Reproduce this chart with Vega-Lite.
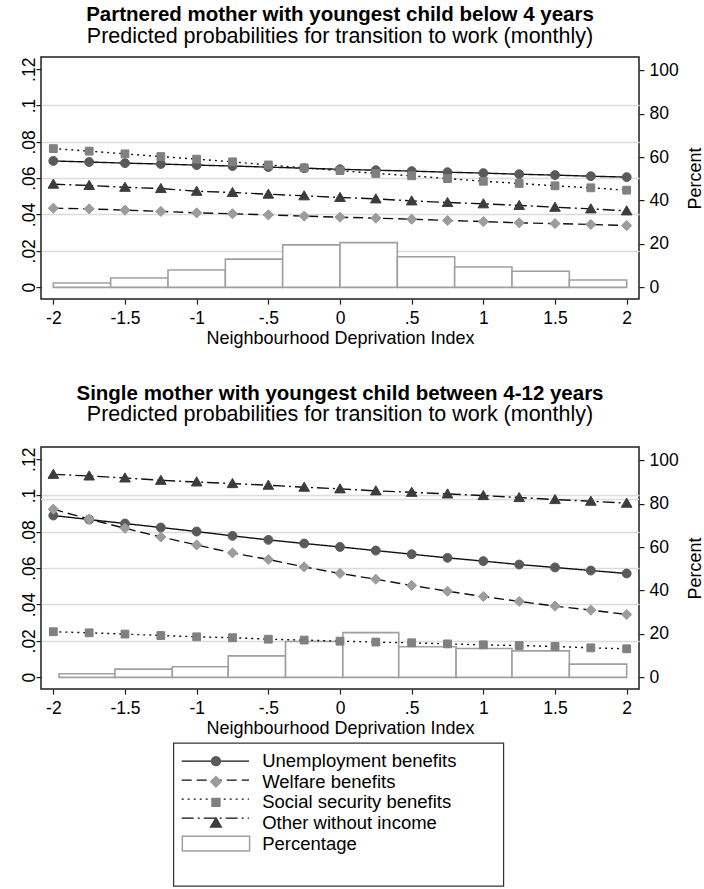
{
  "$schema": "https://vega.github.io/schema/vega-lite/v6.json",
  "padding": {"left": 19, "top": 4.1, "right": 0, "bottom": 0},
  "autosize": {"type": "pad"},
  "background": "white",
  "config": {
    "font": "Liberation Sans",
    "view": {"stroke": "#1e1e1e", "strokeWidth": 1.5},
    "axis": {"labelFont": "Liberation Sans", "titleFont": "Liberation Sans", "labelColor": "#000", "titleColor": "#000", "tickColor": "#1e1e1e", "tickWidth": 1.2, "domain": false, "labelFontSize": 17.5, "titleFontSize": 18, "titleFontWeight": "normal", "labelOverlap": false, "labelFlush": false, "labelBound": false},
    "legend": {"labelFont": "Liberation Sans", "labelFontSize": 18.5, "labelColor": "#000", "labelLimit": 500, "strokeWidth": 1.2},
    "title": {"font": "Liberation Sans", "color": "#000", "subtitleColor": "#000", "subtitleFont": "Liberation Sans"}
  },
  "datasets": {
    "hist_top": [
      {"bin_start": -2, "bin_end": -1.6, "percent": 2.0},
      {"bin_start": -1.6, "bin_end": -1.2, "percent": 4.3},
      {"bin_start": -1.2, "bin_end": -0.8, "percent": 8.0},
      {"bin_start": -0.8, "bin_end": -0.4, "percent": 13.0},
      {"bin_start": -0.4, "bin_end": 0, "percent": 19.6},
      {"bin_start": 0, "bin_end": 0.4, "percent": 20.6},
      {"bin_start": 0.4, "bin_end": 0.8, "percent": 14.1},
      {"bin_start": 0.8, "bin_end": 1.2, "percent": 9.4},
      {"bin_start": 1.2, "bin_end": 1.6, "percent": 7.4},
      {"bin_start": 1.6, "bin_end": 2.0, "percent": 3.4}
    ],
    "hist_bottom": [
      {"bin_start": -1.96, "bin_end": -1.57, "percent": 1.7},
      {"bin_start": -1.57, "bin_end": -1.17, "percent": 3.8},
      {"bin_start": -1.17, "bin_end": -0.78, "percent": 4.9},
      {"bin_start": -0.78, "bin_end": -0.38, "percent": 9.9},
      {"bin_start": -0.38, "bin_end": 0.02, "percent": 16.5},
      {"bin_start": 0.02, "bin_end": 0.41, "percent": 20.6},
      {"bin_start": 0.41, "bin_end": 0.81, "percent": 14.1},
      {"bin_start": 0.81, "bin_end": 1.2, "percent": 13.3},
      {"bin_start": 1.2, "bin_end": 1.6, "percent": 12.2},
      {"bin_start": 1.6, "bin_end": 2.0, "percent": 6.1}
    ],
    "ref_bottom": [{"v": 0.0978}],
    "pred_top": [
      {"x": -2, "series": "Unemployment benefits", "p": 0.0695},
      {"x": -1.75, "series": "Unemployment benefits", "p": 0.0689},
      {"x": -1.5, "series": "Unemployment benefits", "p": 0.0683},
      {"x": -1.25, "series": "Unemployment benefits", "p": 0.0678},
      {"x": -1, "series": "Unemployment benefits", "p": 0.0672},
      {"x": -0.75, "series": "Unemployment benefits", "p": 0.0667},
      {"x": -0.5, "series": "Unemployment benefits", "p": 0.0661},
      {"x": -0.25, "series": "Unemployment benefits", "p": 0.0655},
      {"x": 0, "series": "Unemployment benefits", "p": 0.0649},
      {"x": 0.25, "series": "Unemployment benefits", "p": 0.0644},
      {"x": 0.5, "series": "Unemployment benefits", "p": 0.0639},
      {"x": 0.75, "series": "Unemployment benefits", "p": 0.0633},
      {"x": 1, "series": "Unemployment benefits", "p": 0.0628},
      {"x": 1.25, "series": "Unemployment benefits", "p": 0.0622},
      {"x": 1.5, "series": "Unemployment benefits", "p": 0.0617},
      {"x": 1.75, "series": "Unemployment benefits", "p": 0.0611},
      {"x": 2, "series": "Unemployment benefits", "p": 0.0606},
      {"x": -2, "series": "Welfare benefits", "p": 0.0435},
      {"x": -1.75, "series": "Welfare benefits", "p": 0.0431},
      {"x": -1.5, "series": "Welfare benefits", "p": 0.0424},
      {"x": -1.25, "series": "Welfare benefits", "p": 0.0417},
      {"x": -1, "series": "Welfare benefits", "p": 0.0409},
      {"x": -0.75, "series": "Welfare benefits", "p": 0.0404},
      {"x": -0.5, "series": "Welfare benefits", "p": 0.0398},
      {"x": -0.25, "series": "Welfare benefits", "p": 0.0391},
      {"x": 0, "series": "Welfare benefits", "p": 0.0385},
      {"x": 0.25, "series": "Welfare benefits", "p": 0.0380},
      {"x": 0.5, "series": "Welfare benefits", "p": 0.0374},
      {"x": 0.75, "series": "Welfare benefits", "p": 0.0367},
      {"x": 1, "series": "Welfare benefits", "p": 0.0361},
      {"x": 1.25, "series": "Welfare benefits", "p": 0.0354},
      {"x": 1.5, "series": "Welfare benefits", "p": 0.0350},
      {"x": 1.75, "series": "Welfare benefits", "p": 0.0345},
      {"x": 2, "series": "Welfare benefits", "p": 0.0339},
      {"x": -2, "series": "Social security benefits", "p": 0.0763},
      {"x": -1.75, "series": "Social security benefits", "p": 0.0749},
      {"x": -1.5, "series": "Social security benefits", "p": 0.0734},
      {"x": -1.25, "series": "Social security benefits", "p": 0.0719},
      {"x": -1, "series": "Social security benefits", "p": 0.0705},
      {"x": -0.75, "series": "Social security benefits", "p": 0.0690},
      {"x": -0.5, "series": "Social security benefits", "p": 0.0673},
      {"x": -0.25, "series": "Social security benefits", "p": 0.0657},
      {"x": 0, "series": "Social security benefits", "p": 0.0642},
      {"x": 0.25, "series": "Social security benefits", "p": 0.0626},
      {"x": 0.5, "series": "Social security benefits", "p": 0.0613},
      {"x": 0.75, "series": "Social security benefits", "p": 0.0598},
      {"x": 1, "series": "Social security benefits", "p": 0.0583},
      {"x": 1.25, "series": "Social security benefits", "p": 0.0571},
      {"x": 1.5, "series": "Social security benefits", "p": 0.0558},
      {"x": 1.75, "series": "Social security benefits", "p": 0.0547},
      {"x": 2, "series": "Social security benefits", "p": 0.0534},
      {"x": -2, "series": "Other without income", "p": 0.0567},
      {"x": -1.75, "series": "Other without income", "p": 0.0560},
      {"x": -1.5, "series": "Other without income", "p": 0.0550},
      {"x": -1.25, "series": "Other without income", "p": 0.0543},
      {"x": -1, "series": "Other without income", "p": 0.0528},
      {"x": -0.75, "series": "Other without income", "p": 0.0521},
      {"x": -0.5, "series": "Other without income", "p": 0.0512},
      {"x": -0.25, "series": "Other without income", "p": 0.0503},
      {"x": 0, "series": "Other without income", "p": 0.0494},
      {"x": 0.25, "series": "Other without income", "p": 0.0486},
      {"x": 0.5, "series": "Other without income", "p": 0.0475},
      {"x": 0.75, "series": "Other without income", "p": 0.0466},
      {"x": 1, "series": "Other without income", "p": 0.0459},
      {"x": 1.25, "series": "Other without income", "p": 0.0450},
      {"x": 1.5, "series": "Other without income", "p": 0.0440},
      {"x": 1.75, "series": "Other without income", "p": 0.0431},
      {"x": 2, "series": "Other without income", "p": 0.0420}
    ],
    "pred_bottom": [
      {"x": -2, "series": "Unemployment benefits", "p": 0.0890},
      {"x": -1.75, "series": "Unemployment benefits", "p": 0.0868},
      {"x": -1.5, "series": "Unemployment benefits", "p": 0.0846},
      {"x": -1.25, "series": "Unemployment benefits", "p": 0.0824},
      {"x": -1, "series": "Unemployment benefits", "p": 0.0802},
      {"x": -0.75, "series": "Unemployment benefits", "p": 0.0778},
      {"x": -0.5, "series": "Unemployment benefits", "p": 0.0756},
      {"x": -0.25, "series": "Unemployment benefits", "p": 0.0736},
      {"x": 0, "series": "Unemployment benefits", "p": 0.0717},
      {"x": 0.25, "series": "Unemployment benefits", "p": 0.0697},
      {"x": 0.5, "series": "Unemployment benefits", "p": 0.0677},
      {"x": 0.75, "series": "Unemployment benefits", "p": 0.0657},
      {"x": 1, "series": "Unemployment benefits", "p": 0.0639},
      {"x": 1.25, "series": "Unemployment benefits", "p": 0.0620},
      {"x": 1.5, "series": "Unemployment benefits", "p": 0.0604},
      {"x": 1.75, "series": "Unemployment benefits", "p": 0.0587},
      {"x": 2, "series": "Unemployment benefits", "p": 0.0571},
      {"x": -2, "series": "Welfare benefits", "p": 0.0925},
      {"x": -1.75, "series": "Welfare benefits", "p": 0.0870},
      {"x": -1.5, "series": "Welfare benefits", "p": 0.0820},
      {"x": -1.25, "series": "Welfare benefits", "p": 0.0772},
      {"x": -1, "series": "Welfare benefits", "p": 0.0728},
      {"x": -0.75, "series": "Welfare benefits", "p": 0.0684},
      {"x": -0.5, "series": "Welfare benefits", "p": 0.0648},
      {"x": -0.25, "series": "Welfare benefits", "p": 0.0607},
      {"x": 0, "series": "Welfare benefits", "p": 0.0571},
      {"x": 0.25, "series": "Welfare benefits", "p": 0.0539},
      {"x": 0.5, "series": "Welfare benefits", "p": 0.0505},
      {"x": 0.75, "series": "Welfare benefits", "p": 0.0473},
      {"x": 1, "series": "Welfare benefits", "p": 0.0444},
      {"x": 1.25, "series": "Welfare benefits", "p": 0.0417},
      {"x": 1.5, "series": "Welfare benefits", "p": 0.0391},
      {"x": 1.75, "series": "Welfare benefits", "p": 0.0369},
      {"x": 2, "series": "Welfare benefits", "p": 0.0345},
      {"x": -2, "series": "Social security benefits", "p": 0.0250},
      {"x": -1.75, "series": "Social security benefits", "p": 0.0244},
      {"x": -1.5, "series": "Social security benefits", "p": 0.0237},
      {"x": -1.25, "series": "Social security benefits", "p": 0.0229},
      {"x": -1, "series": "Social security benefits", "p": 0.0222},
      {"x": -0.75, "series": "Social security benefits", "p": 0.0217},
      {"x": -0.5, "series": "Social security benefits", "p": 0.0209},
      {"x": -0.25, "series": "Social security benefits", "p": 0.0204},
      {"x": 0, "series": "Social security benefits", "p": 0.0198},
      {"x": 0.25, "series": "Social security benefits", "p": 0.0193},
      {"x": 0.5, "series": "Social security benefits", "p": 0.0189},
      {"x": 0.75, "series": "Social security benefits", "p": 0.0183},
      {"x": 1, "series": "Social security benefits", "p": 0.0178},
      {"x": 1.25, "series": "Social security benefits", "p": 0.0174},
      {"x": 1.5, "series": "Social security benefits", "p": 0.0169},
      {"x": 1.75, "series": "Social security benefits", "p": 0.0161},
      {"x": 2, "series": "Social security benefits", "p": 0.0156},
      {"x": -2, "series": "Other without income", "p": 0.1117},
      {"x": -1.75, "series": "Other without income", "p": 0.1108},
      {"x": -1.5, "series": "Other without income", "p": 0.1097},
      {"x": -1.25, "series": "Other without income", "p": 0.1084},
      {"x": -1, "series": "Other without income", "p": 0.1075},
      {"x": -0.75, "series": "Other without income", "p": 0.1066},
      {"x": -0.5, "series": "Other without income", "p": 0.1057},
      {"x": -0.25, "series": "Other without income", "p": 0.1046},
      {"x": 0, "series": "Other without income", "p": 0.1037},
      {"x": 0.25, "series": "Other without income", "p": 0.1026},
      {"x": 0.5, "series": "Other without income", "p": 0.1018},
      {"x": 0.75, "series": "Other without income", "p": 0.1009},
      {"x": 1, "series": "Other without income", "p": 0.1000},
      {"x": 1.25, "series": "Other without income", "p": 0.0989},
      {"x": 1.5, "series": "Other without income", "p": 0.0978},
      {"x": 1.75, "series": "Other without income", "p": 0.0969},
      {"x": 2, "series": "Other without income", "p": 0.0958}
    ]
  },
  "spacing": 33,
  "vconcat": [
    {
      "width": 598,
      "height": 242,
      "title": {"text": "Partnered mother with youngest child below 4 years", "subtitle": "Predicted probabilities for transition to work (monthly)", "fontSize": 20.5, "fontWeight": "bold", "subtitleFontSize": 21.5, "subtitlePadding": 0, "offset": 9.7, "anchor": "middle"},
      "resolve": {"scale": {"y": "independent"}},
      "layer": [
        {
          "data": {"name": "hist_top"},
          "mark": {"type": "rect", "fill": "white", "stroke": "#a0a0a0", "strokeWidth": 1.6},
          "encoding": {
            "x": {"field": "bin_start", "type": "quantitative", "scale": {"domain": [-2.086, 2.086], "nice": false, "zero": false}, "axis": {"orient": "bottom", "values": [-2, -1.5, -1, -0.5, 0, 0.5, 1, 1.5, 2], "labelExpr": "datum.value == 0.5 ? '.5' : datum.value == -0.5 ? '-.5' : datum.value < 0 ? '-' + format(-datum.value, '~g') : format(datum.value, '~g')", "title": "Neighbourhood Deprivation Index", "tickSize": 5, "labelPadding": 5.5, "titlePadding": 2.5, "grid": false, "labelAngle": 0, "labelAlign": "center", "labelBaseline": "top"}},
            "x2": {"field": "bin_end"},
            "y": {"field": "percent", "type": "quantitative", "scale": {"domain": [-5.4, 106.1], "nice": false, "zero": false}, "axis": {"orient": "right", "values": [0, 20, 40, 60, 80, 100], "title": "Percent", "titleAngle": 270, "titleAlign": "center", "titleBaseline": "top", "titlePadding": 8, "tickSize": 5, "labelPadding": 5, "grid": false, "labelBaseline": "middle", "labelAlign": "left", "labelAngle": 0}},
            "y2": {"datum": 0}
          }
        },
        {
          "data": {"name": "pred_top"},
          "layer": [
            {
              "mark": {"type": "line", "color": "#111111", "strokeWidth": 1.4},
              "encoding": {
                "x": {"field": "x", "type": "quantitative", "scale": {"domain": [-2.086, 2.086], "nice": false, "zero": false}, "axis": {"orient": "bottom", "values": [-2, -1.5, -1, -0.5, 0, 0.5, 1, 1.5, 2], "labelExpr": "datum.value == 0.5 ? '.5' : datum.value == -0.5 ? '-.5' : datum.value < 0 ? '-' + format(-datum.value, '~g') : format(datum.value, '~g')", "title": "Neighbourhood Deprivation Index", "tickSize": 5, "labelPadding": 5.5, "titlePadding": 2.5, "grid": false, "labelAngle": 0, "labelAlign": "center", "labelBaseline": "top"}},
                "y": {"field": "p", "type": "quantitative", "scale": {"domain": [-0.0066, 0.1267], "nice": false, "zero": false}, "axis": {"orient": "left", "values": [0, 0.02, 0.04, 0.06, 0.08, 0.1, 0.12], "labelExpr": "datum.value == 0 ? '0' : replace(format(datum.value, '.2~f'), '0.', '.')", "labelAngle": 270, "labelAlign": "center", "labelBaseline": "alphabetic", "labelPadding": 2, "tickSize": 5, "title": null, "grid": true, "gridColor": "#dcdcdc", "gridWidth": 1.5, "gridOpacity": {"condition": {"test": "datum.value > 0.01 && datum.value < 0.11", "value": 1}, "value": 0}}},
                "strokeDash": {"field": "series", "type": "nominal", "scale": {"domain": ["Unemployment benefits", "Welfare benefits", "Social security benefits", "Other without income"], "range": [[1, 0], [10, 5], [2, 4], [12, 4, 2, 4]]}, "legend": {"orient": "none", "legendX": 140.7, "legendY": 694.75, "title": null, "symbolType": "M-4.206,0L4.206,0", "symbolSize": 256, "symbolStrokeWidth": 1.4, "symbolStrokeColor": "#111111", "symbolOffset": 24.4, "labelExpr": "'\u00a0'", "rowPadding": -1.35, "padding": 0, "zindex": 0, "labelOffset": 37}}
              }
            },
            {
              "mark": {"type": "point", "filled": true, "size": 72, "opacity": 1, "strokeWidth": 1, "clip": true},
              "encoding": {
                "x": {"field": "x", "type": "quantitative", "scale": {"domain": [-2.086, 2.086], "nice": false, "zero": false}, "axis": {"orient": "bottom", "values": [-2, -1.5, -1, -0.5, 0, 0.5, 1, 1.5, 2], "labelExpr": "datum.value == 0.5 ? '.5' : datum.value == -0.5 ? '-.5' : datum.value < 0 ? '-' + format(-datum.value, '~g') : format(datum.value, '~g')", "title": "Neighbourhood Deprivation Index", "tickSize": 5, "labelPadding": 5.5, "titlePadding": 2.5, "grid": false, "labelAngle": 0, "labelAlign": "center", "labelBaseline": "top"}},
                "y": {"field": "p", "type": "quantitative", "scale": {"domain": [-0.0066, 0.1267], "nice": false, "zero": false}, "axis": {"orient": "left", "values": [0, 0.02, 0.04, 0.06, 0.08, 0.1, 0.12], "labelExpr": "datum.value == 0 ? '0' : replace(format(datum.value, '.2~f'), '0.', '.')", "labelAngle": 270, "labelAlign": "center", "labelBaseline": "alphabetic", "labelPadding": 2, "tickSize": 5, "title": null, "grid": true, "gridColor": "#dcdcdc", "gridWidth": 1.5, "gridOpacity": {"condition": {"test": "datum.value > 0.01 && datum.value < 0.11", "value": 1}, "value": 0}}},
                "shape": {"field": "series", "type": "nominal", "scale": {"domain": ["Unemployment benefits", "Welfare benefits", "Social security benefits", "Other without income", "Percentage"], "range": ["M-7.93,-1.74M64.8,1.74M1.05,0A1.05,1.05,0,1,1,-1.05,0A1.05,1.05,0,1,1,1.05,0Z", "M-7.93,-1.74M64.8,1.74M0,-1.2L1.2,0L0,1.2L-1.2,0Z", "M-7.93,-1.74M64.8,1.74M-0.92,-0.92L0.92,-0.92L0.92,0.92L-0.92,0.92Z", "M-7.93,-1.74M64.8,1.74M0,-1.2L1.25,0.95L-1.25,0.95Z", "M64.8,0M-7.93,-1.74L7.93,-1.74L7.93,1.74L-7.93,1.74Z"]}, "legend": {"orient": "none", "legendX": 132.3, "legendY": 685.75, "title": "\u00a0\u00a0\u00a0\u00a0\u00a0\u00a0\u00a0\u00a0\u00a0\u00a0", "titleOrient": "bottom", "titleFontSize": 9.96, "titlePadding": 13, "titleLimit": 1000, "padding": 9, "strokeColor": "#333333", "symbolSize": 72, "symbolStrokeWidth": 1.5, "symbolOffset": 24.4, "labelOffset": 37, "rowPadding": -1.35, "zindex": 1}},
                "fill": {"field": "series", "type": "nominal", "scale": {"domain": ["Unemployment benefits", "Welfare benefits", "Social security benefits", "Other without income", "Percentage"], "range": ["#5a5a5a", "#9c9c9c", "#808080", "#3c3c3c", "#ffffff"]}, "legend": {"orient": "none", "legendX": 132.3, "legendY": 685.75, "titleOrient": "bottom", "titleFontSize": 9.96, "titlePadding": 13, "titleLimit": 1000, "padding": 9, "strokeColor": "#333333", "symbolSize": 72, "symbolStrokeWidth": 1.5, "symbolOffset": 24.4, "labelOffset": 37, "rowPadding": -1.35, "zindex": 1}},
                "stroke": {"field": "series", "type": "nominal", "scale": {"domain": ["Unemployment benefits", "Welfare benefits", "Social security benefits", "Other without income", "Percentage"], "range": ["#5a5a5a", "#9c9c9c", "#808080", "#3c3c3c", "#a0a0a0"]}, "legend": {"orient": "none", "legendX": 132.3, "legendY": 685.75, "titleOrient": "bottom", "titleFontSize": 9.96, "titlePadding": 13, "titleLimit": 1000, "padding": 9, "strokeColor": "#333333", "symbolSize": 72, "symbolStrokeWidth": 1.5, "symbolOffset": 24.4, "labelOffset": 37, "rowPadding": -1.35, "zindex": 1}}
              }
            }
          ]
        }
      ]
    },
    {
      "width": 598,
      "height": 242,
      "title": {"text": "Single mother with youngest child between 4-12 years", "subtitle": "Predicted probabilities for transition to work (monthly)", "fontSize": 20.5, "fontWeight": "bold", "subtitleFontSize": 21.5, "subtitlePadding": 0, "offset": 21.5, "anchor": "middle"},
      "resolve": {"scale": {"y": "independent"}},
      "layer": [
        {
          "data": {"name": "hist_bottom"},
          "mark": {"type": "rect", "fill": "white", "stroke": "#a0a0a0", "strokeWidth": 1.6},
          "encoding": {
            "x": {"field": "bin_start", "type": "quantitative", "scale": {"domain": [-2.086, 2.086], "nice": false, "zero": false}, "axis": {"orient": "bottom", "values": [-2, -1.5, -1, -0.5, 0, 0.5, 1, 1.5, 2], "labelExpr": "datum.value == 0.5 ? '.5' : datum.value == -0.5 ? '-.5' : datum.value < 0 ? '-' + format(-datum.value, '~g') : format(datum.value, '~g')", "title": "Neighbourhood Deprivation Index", "tickSize": 5, "labelPadding": 5.5, "titlePadding": 2.5, "grid": false, "labelAngle": 0, "labelAlign": "center", "labelBaseline": "top"}},
            "x2": {"field": "bin_end"},
            "y": {"field": "percent", "type": "quantitative", "scale": {"domain": [-5.4, 106.1], "nice": false, "zero": false}, "axis": {"orient": "right", "values": [0, 20, 40, 60, 80, 100], "title": "Percent", "titleAngle": 270, "titleAlign": "center", "titleBaseline": "top", "titlePadding": 8, "tickSize": 5, "labelPadding": 5, "grid": false, "labelBaseline": "middle", "labelAlign": "left", "labelAngle": 0}},
            "y2": {"datum": 0}
          }
        },
        {
          "layer": [
            {
              "data": {"name": "ref_bottom"},
              "mark": {"type": "rule", "color": "#dcdcdc", "strokeWidth": 1.5},
              "encoding": {
                "y": {"field": "v", "type": "quantitative", "scale": {"domain": [-0.0066, 0.1267], "nice": false, "zero": false}, "axis": {"orient": "left", "values": [0, 0.02, 0.04, 0.06, 0.08, 0.1, 0.12], "labelExpr": "datum.value == 0 ? '0' : replace(format(datum.value, '.2~f'), '0.', '.')", "labelAngle": 270, "labelAlign": "center", "labelBaseline": "alphabetic", "labelPadding": 2, "tickSize": 5, "title": null, "grid": true, "gridColor": "#dcdcdc", "gridWidth": 1.5, "gridOpacity": {"condition": {"test": "datum.value > 0.01 && datum.value < 0.11", "value": 1}, "value": 0}}}
              }
            },
            {
              "data": {"name": "pred_bottom"},
              "mark": {"type": "line", "color": "#111111", "strokeWidth": 1.4},
              "encoding": {
                "x": {"field": "x", "type": "quantitative", "scale": {"domain": [-2.086, 2.086], "nice": false, "zero": false}, "axis": {"orient": "bottom", "values": [-2, -1.5, -1, -0.5, 0, 0.5, 1, 1.5, 2], "labelExpr": "datum.value == 0.5 ? '.5' : datum.value == -0.5 ? '-.5' : datum.value < 0 ? '-' + format(-datum.value, '~g') : format(datum.value, '~g')", "title": "Neighbourhood Deprivation Index", "tickSize": 5, "labelPadding": 5.5, "titlePadding": 2.5, "grid": false, "labelAngle": 0, "labelAlign": "center", "labelBaseline": "top"}},
                "y": {"field": "p", "type": "quantitative", "scale": {"domain": [-0.0066, 0.1267], "nice": false, "zero": false}, "axis": {"orient": "left", "values": [0, 0.02, 0.04, 0.06, 0.08, 0.1, 0.12], "labelExpr": "datum.value == 0 ? '0' : replace(format(datum.value, '.2~f'), '0.', '.')", "labelAngle": 270, "labelAlign": "center", "labelBaseline": "alphabetic", "labelPadding": 2, "tickSize": 5, "title": null, "grid": true, "gridColor": "#dcdcdc", "gridWidth": 1.5, "gridOpacity": {"condition": {"test": "datum.value > 0.01 && datum.value < 0.11", "value": 1}, "value": 0}}},
                "strokeDash": {"field": "series", "type": "nominal", "scale": {"domain": ["Unemployment benefits", "Welfare benefits", "Social security benefits", "Other without income"], "range": [[1, 0], [10, 5], [2, 4], [12, 4, 2, 4]]}, "legend": {"orient": "none", "legendX": 140.7, "legendY": 694.75, "title": null, "symbolType": "M-4.206,0L4.206,0", "symbolSize": 256, "symbolStrokeWidth": 1.4, "symbolStrokeColor": "#111111", "symbolOffset": 24.4, "labelExpr": "'\u00a0'", "rowPadding": -1.35, "padding": 0, "zindex": 0, "labelOffset": 37}}
              }
            },
            {
              "data": {"name": "pred_bottom"},
              "mark": {"type": "point", "filled": true, "size": 72, "opacity": 1, "strokeWidth": 1, "clip": true},
              "encoding": {
                "x": {"field": "x", "type": "quantitative", "scale": {"domain": [-2.086, 2.086], "nice": false, "zero": false}, "axis": {"orient": "bottom", "values": [-2, -1.5, -1, -0.5, 0, 0.5, 1, 1.5, 2], "labelExpr": "datum.value == 0.5 ? '.5' : datum.value == -0.5 ? '-.5' : datum.value < 0 ? '-' + format(-datum.value, '~g') : format(datum.value, '~g')", "title": "Neighbourhood Deprivation Index", "tickSize": 5, "labelPadding": 5.5, "titlePadding": 2.5, "grid": false, "labelAngle": 0, "labelAlign": "center", "labelBaseline": "top"}},
                "y": {"field": "p", "type": "quantitative", "scale": {"domain": [-0.0066, 0.1267], "nice": false, "zero": false}, "axis": {"orient": "left", "values": [0, 0.02, 0.04, 0.06, 0.08, 0.1, 0.12], "labelExpr": "datum.value == 0 ? '0' : replace(format(datum.value, '.2~f'), '0.', '.')", "labelAngle": 270, "labelAlign": "center", "labelBaseline": "alphabetic", "labelPadding": 2, "tickSize": 5, "title": null, "grid": true, "gridColor": "#dcdcdc", "gridWidth": 1.5, "gridOpacity": {"condition": {"test": "datum.value > 0.01 && datum.value < 0.11", "value": 1}, "value": 0}}},
                "shape": {"field": "series", "type": "nominal", "scale": {"domain": ["Unemployment benefits", "Welfare benefits", "Social security benefits", "Other without income", "Percentage"], "range": ["M-7.93,-1.74M64.8,1.74M1.05,0A1.05,1.05,0,1,1,-1.05,0A1.05,1.05,0,1,1,1.05,0Z", "M-7.93,-1.74M64.8,1.74M0,-1.2L1.2,0L0,1.2L-1.2,0Z", "M-7.93,-1.74M64.8,1.74M-0.92,-0.92L0.92,-0.92L0.92,0.92L-0.92,0.92Z", "M-7.93,-1.74M64.8,1.74M0,-1.2L1.25,0.95L-1.25,0.95Z", "M64.8,0M-7.93,-1.74L7.93,-1.74L7.93,1.74L-7.93,1.74Z"]}, "legend": {"orient": "none", "legendX": 132.3, "legendY": 685.75, "title": "\u00a0\u00a0\u00a0\u00a0\u00a0\u00a0\u00a0\u00a0\u00a0\u00a0", "titleOrient": "bottom", "titleFontSize": 9.96, "titlePadding": 13, "titleLimit": 1000, "padding": 9, "strokeColor": "#333333", "symbolSize": 72, "symbolStrokeWidth": 1.5, "symbolOffset": 24.4, "labelOffset": 37, "rowPadding": -1.35, "zindex": 1}},
                "fill": {"field": "series", "type": "nominal", "scale": {"domain": ["Unemployment benefits", "Welfare benefits", "Social security benefits", "Other without income", "Percentage"], "range": ["#5a5a5a", "#9c9c9c", "#808080", "#3c3c3c", "#ffffff"]}, "legend": {"orient": "none", "legendX": 132.3, "legendY": 685.75, "titleOrient": "bottom", "titleFontSize": 9.96, "titlePadding": 13, "titleLimit": 1000, "padding": 9, "strokeColor": "#333333", "symbolSize": 72, "symbolStrokeWidth": 1.5, "symbolOffset": 24.4, "labelOffset": 37, "rowPadding": -1.35, "zindex": 1}},
                "stroke": {"field": "series", "type": "nominal", "scale": {"domain": ["Unemployment benefits", "Welfare benefits", "Social security benefits", "Other without income", "Percentage"], "range": ["#5a5a5a", "#9c9c9c", "#808080", "#3c3c3c", "#a0a0a0"]}, "legend": {"orient": "none", "legendX": 132.3, "legendY": 685.75, "titleOrient": "bottom", "titleFontSize": 9.96, "titlePadding": 13, "titleLimit": 1000, "padding": 9, "strokeColor": "#333333", "symbolSize": 72, "symbolStrokeWidth": 1.5, "symbolOffset": 24.4, "labelOffset": 37, "rowPadding": -1.35, "zindex": 1}}
              }
            }
          ]
        }
      ]
    }
  ]
}
